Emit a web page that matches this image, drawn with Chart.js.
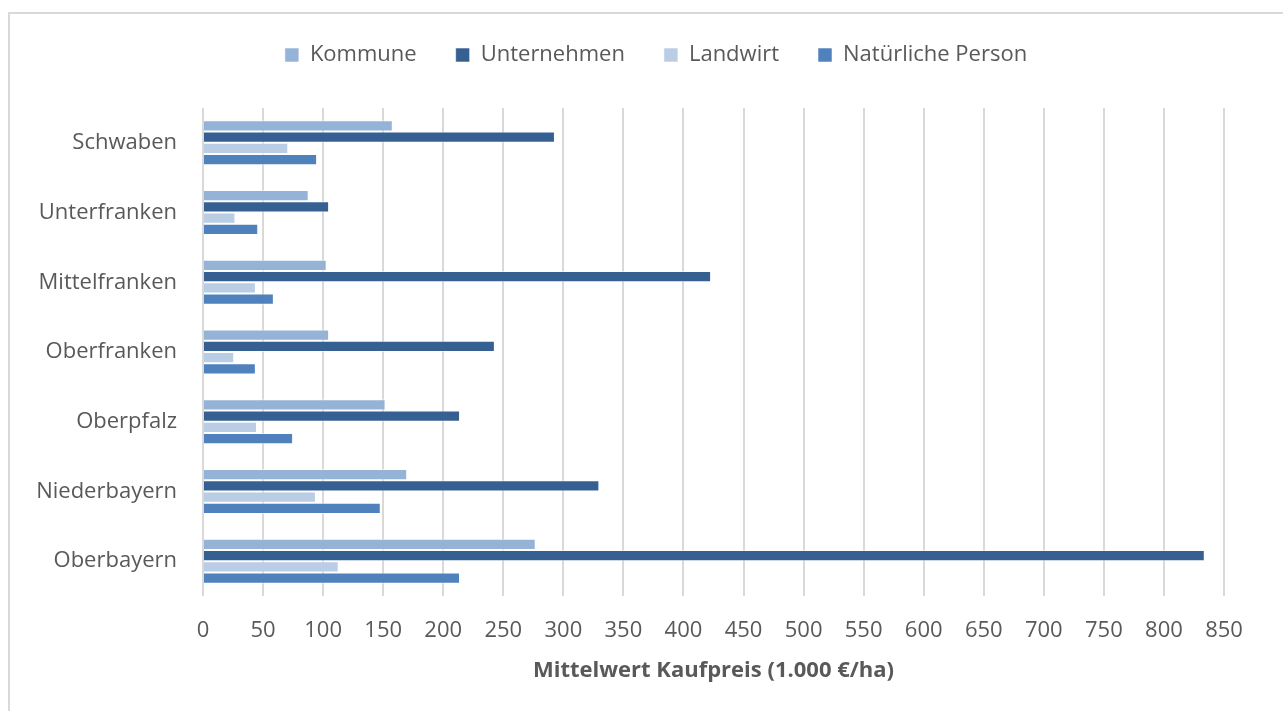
<!DOCTYPE html>
<html>
<head>
<meta charset="utf-8">
<script src="https://cdn.jsdelivr.net/npm/chart.js@4/dist/chart.umd.min.js"></script>
<style>
  html, body { margin: 0; padding: 0; background: #fff; overflow: hidden; }
  #rahmen { position: absolute; left: 8px; top: 12px; width: 1300px; height: 720px;
            border-left: 2px solid #d9d9d9; border-top: 2px solid #d9d9d9; }
  #wrap { position: absolute; left: 0; top: 0; width: 1283px; height: 711px; }
</style>
</head>
<body>
<div id="rahmen"></div>
<div id="wrap"><canvas id="grafik" width="1283" height="711"></canvas></div>
<script>
const regionen = ['Schwaben', 'Unterfranken', 'Mittelfranken', 'Oberfranken', 'Oberpfalz', 'Niederbayern', 'Oberbayern'];

// Mittelwert Kaufpreis in 1.000 €/ha
const kommune = [158, 88, 103, 105, 152, 170, 277];
const unternehmen = [293, 105, 423, 243, 214, 330, 834];
const landwirt = [71, 27, 44, 26, 45, 94, 113];
const natuerlichePerson = [95, 46, 59, 44, 75, 148, 214];

const xMax = 850;
const xStep = 50;

const textFarbe = '#595959';
const schrift = "'Open Sans', 'Liberation Sans', sans-serif";

function reihe(label, data, farbe) {
    return {
        label: label,
        data: data,
        backgroundColor: farbe,
        borderColor: 'rgba(255, 255, 255, 0.55)',
        borderWidth: 1,
        categoryPercentage: 0.645,
        barPercentage: 1.0
    };
}

// mehr Platz unter der Legende, Legende etwas nach rechts
const legendenAbstand = {
    id: 'legendenAbstand',
    beforeInit(chart) {
        const fitAlt = chart.legend.fit;
        chart.legend.fit = function() {
            fitAlt.bind(chart.legend)();
            this.height += 32;
        };
    },
    beforeDraw(chart) {
        chart.legend.left = 88;
    }
};

document.addEventListener('DOMContentLoaded', function() {
    const ctx = document.getElementById('grafik').getContext('2d');

    new Chart(ctx, {
        type: 'bar',
        data: {
            labels: regionen,
            datasets: [
                reihe('Kommune', kommune, '#95b3d7'),
                reihe('Unternehmen', unternehmen, '#366092'),
                reihe('Landwirt', landwirt, '#b9cde5'),
                reihe('Natürliche Person', natuerlichePerson, '#4f81bd')
            ]
        },
        plugins: [legendenAbstand],
        options: {
            indexAxis: 'y',
            responsive: false,
            animation: false,
            layout: { padding: { top: 5, right: 59, left: 0, bottom: 0 } },
            scales: {
                x: {
                    min: 0,
                    max: xMax,
                    ticks: {
                        stepSize: xStep,
                        color: textFarbe,
                        font: { family: schrift, size: 22 },
                        padding: 22
                    },
                    grid: { color: '#d9d9d9', lineWidth: 2, drawTicks: false },
                    border: { display: false },
                    title: {
                        display: true,
                        text: 'Mittelwert Kaufpreis (1.000 €/ha)',
                        color: textFarbe,
                        font: { family: schrift, size: 22, weight: 'bold' },
                        padding: { top: 0, bottom: 27 }
                    },
                    afterFit: function(scale) { scale.height = 115; }
                },
                y: {
                    ticks: {
                        color: textFarbe,
                        font: { family: schrift, size: 22 },
                        padding: 26
                    },
                    grid: { display: false, drawTicks: false },
                    border: { display: false },
                    afterFit: function(scale) { scale.width = 203; }
                }
            },
            plugins: {
                legend: {
                    display: true,
                    position: 'top',
                    labels: {
                        boxWidth: 14,
                        boxHeight: 14,
                        padding: 39,
                        color: textFarbe,
                        font: { family: schrift, size: 22 }
                    }
                },
                tooltip: { enabled: false }
            }
        }
    });
});
</script>
</body>
</html>
